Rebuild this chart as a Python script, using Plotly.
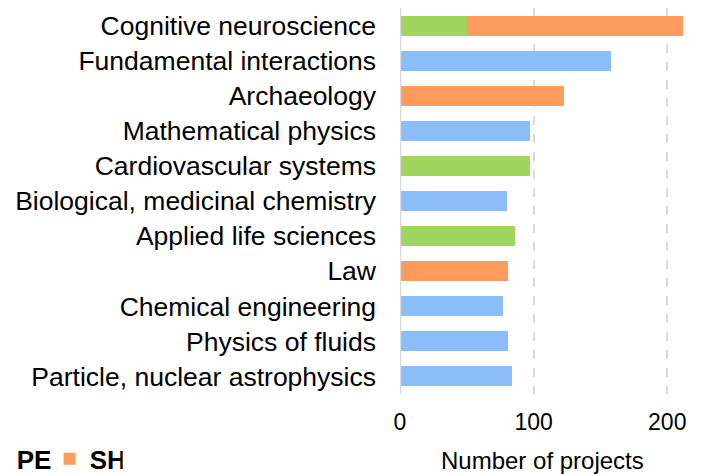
import plotly.graph_objects as go

categories = [
    "Cognitive neuroscience",
    "Fundamental interactions",
    "Archaeology",
    "Mathematical physics",
    "Cardiovascular systems",
    "Biological, medicinal chemistry",
    "Applied life sciences",
    "Law",
    "Chemical engineering",
    "Physics of fluids",
    "Particle, nuclear astrophysics",
]
pe_values = [0, 158, 0, 97, 0, 80, 0, 0, 77, 81, 84]
ls_values = [50, 0, 0, 0, 97, 0, 86, 0, 0, 0, 0]
sh_values = [162, 0, 123, 0, 0, 0, 0, 81, 0, 0, 0]
x_ticks = [0, 100, 200]
x_title = "Number of projects"

FONT = "Liberation Sans, Arial, sans-serif"

fig = go.Figure()
fig.add_trace(go.Bar(y=categories, x=pe_values, orientation="h", name="PE",
                     marker=dict(color="#8BBEF8", line=dict(width=0))))
fig.add_trace(go.Bar(y=categories, x=ls_values, orientation="h", name="LS",
                     showlegend=False,
                     marker=dict(color="#A0D660", line=dict(width=0))))
fig.add_trace(go.Bar(y=categories, x=sh_values, orientation="h", name="SH",
                     marker=dict(color="#FF9B5C", line=dict(width=0))))

# The page body adds an 8px offset, so the figure is sized 698x466.
fig.update_layout(
    width=698, height=466,
    barmode="stack", bargap=0.43,
    plot_bgcolor="white", paper_bgcolor="white",
    margin=dict(l=392, r=12, t=0, b=80, autoexpand=False),
    font=dict(family=FONT, color="#000000"),
    legend=dict(orientation="h", xref="paper", yref="paper",
                x=-1.44, y=-0.168, xanchor="left", yanchor="middle",
                traceorder="normal",
                font=dict(size=26, weight="bold", family=FONT),
                itemwidth=30, entrywidth=28),
    xaxis=dict(range=[0, 220], tickvals=x_ticks, ticktext=[str(v) for v in x_ticks],
               showgrid=True, gridcolor="#D9D9D9", griddash="dash", gridwidth=1.5,
               zeroline=False, showline=False, automargin=False,
               tickfont=dict(size=23), ticklabelstandoff=12),
    yaxis=dict(categoryorder="array", categoryarray=categories, autorange="reversed",
               tickmode="array", tickvals=categories, ticktext=categories,
               showgrid=False, zeroline=False, showline=False, automargin=False,
               tickfont=dict(size=26.5), ticklabelstandoff=23),
    shapes=[dict(type="line", xref="x", yref="paper", x0=0, x1=0, y0=0, y1=1,
                 line=dict(color="#D9D9D9", width=2.5))],
    annotations=[dict(text=x_title, xref="paper", yref="paper", x=0.485, y=-0.171,
                      xanchor="center", yanchor="middle", showarrow=False,
                      font=dict(size=24, family=FONT))],
)

fig.write_html("out.html")
